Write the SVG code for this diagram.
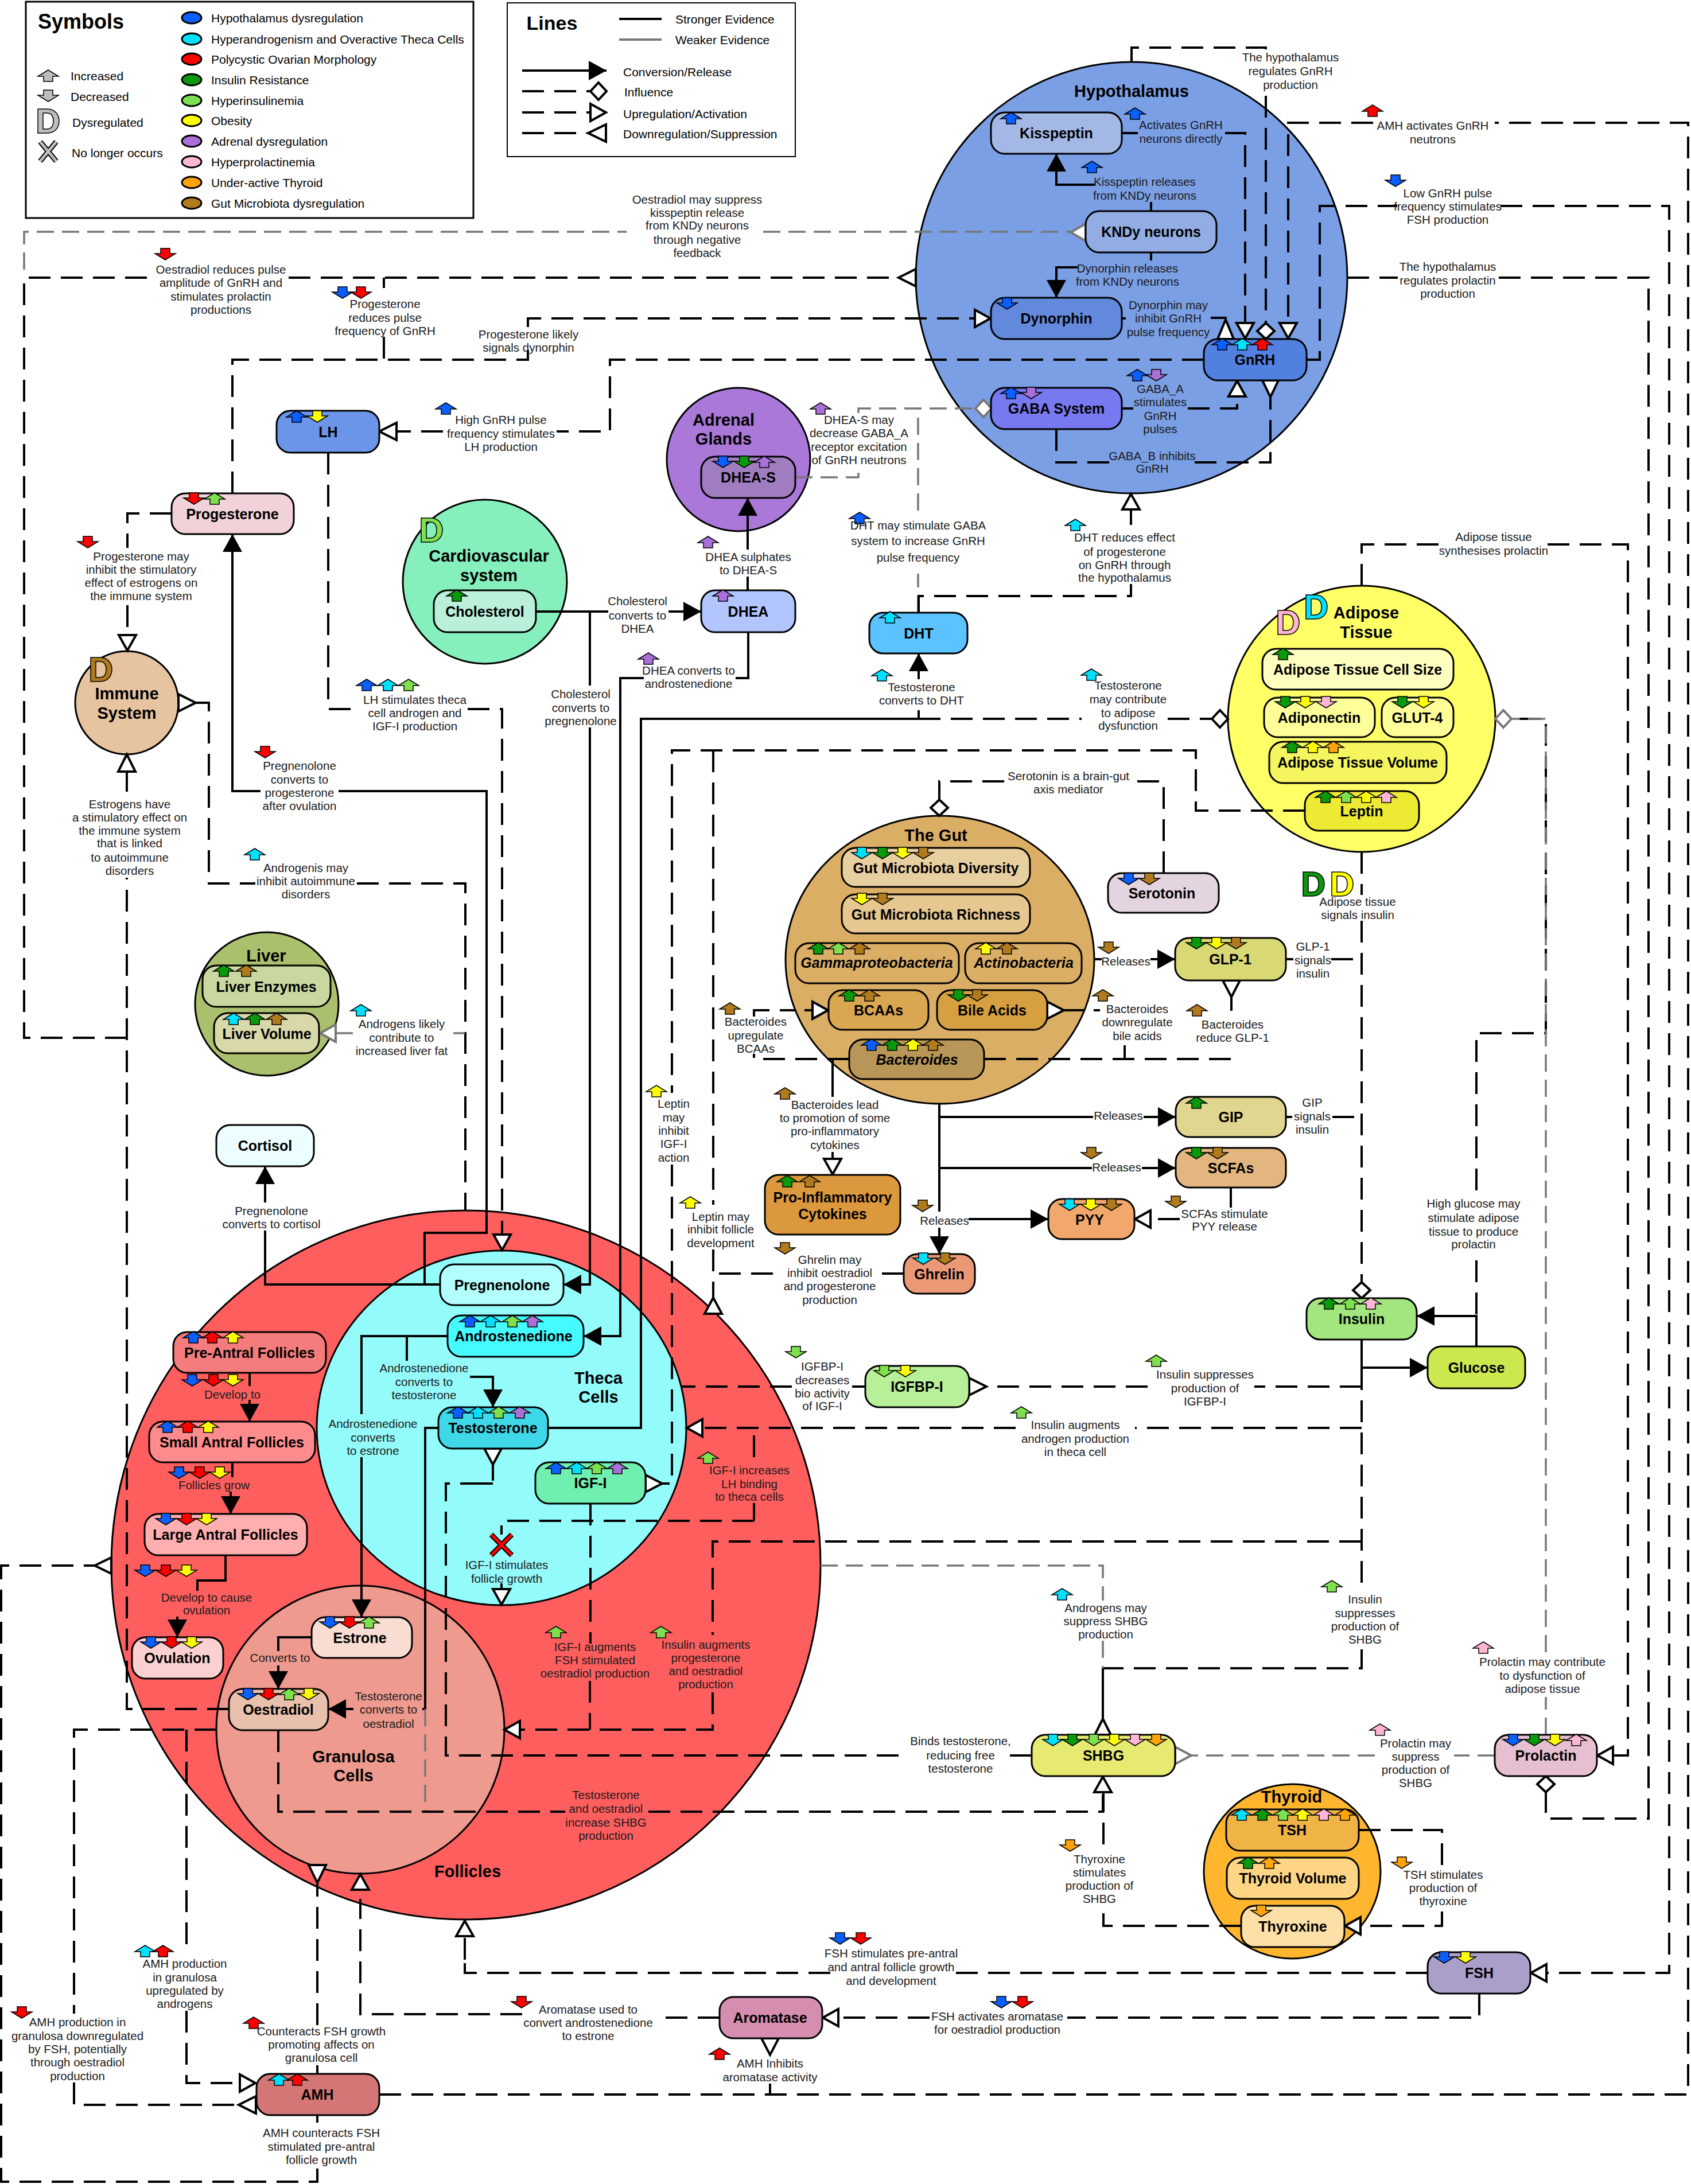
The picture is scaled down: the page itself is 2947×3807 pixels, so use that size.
<svg xmlns="http://www.w3.org/2000/svg" width="2947" height="3807" viewBox="0 0 2947 3807">
<style>
text{font-family:"Liberation Sans",Arial,sans-serif;fill:#000;dominant-baseline:central;text-anchor:middle}
.n{rx:24px;ry:24px;stroke:#000;stroke-width:3}
.c{stroke:#000;stroke-width:3}
.t{font-weight:700;font-size:25px}
.i{font-style:italic}
.h{font-weight:700;font-size:29px}
.e{font-size:20.5px;fill:#1a1a1a}
.l{font-size:21px;text-anchor:start}
.s,.w,.g{fill:none;stroke-linejoin:miter}
.s{stroke:#000;stroke-width:4}
.w{stroke:#000;stroke-width:4;stroke-dasharray:38 18}
.g{stroke:#777;stroke-width:3.5;stroke-dasharray:30 14}
.ma{marker-end:url(#a)}
.mt{marker-end:url(#t)}
.md{marker-end:url(#d)}
.mtg{marker-end:url(#tg)}
.mdg{marker-end:url(#dg)}
.tri{fill:#fff;stroke:#000;stroke-width:4}
.trg{fill:#fff;stroke:#777;stroke-width:4}
.cb{fill:#0B5FFF}.cc{fill:#00E0FF}.cr{fill:#FF0000}.cg{fill:#0A990A}.cl{fill:#7FE04F}.cy{fill:#FFFF00}.cp{fill:#A970D8}.cm{fill:#FFB6D5}.co{fill:#FFA30A}.ck{fill:#B07A1E}.cx{fill:#BDBDBD}
</style>
<defs>
<polygon id="u" points="0,-10 18,1 8,1 8,10 -8,10 -8,1 -18,1" stroke="#000" stroke-width="1.5"/>
<polygon id="v" points="0,10 18,-1 8,-1 8,-10 -8,-10 -8,-1 -18,-1" stroke="#000" stroke-width="1.5"/>
<path id="D" fill-rule="evenodd" stroke="#000" stroke-width="1.5" d="M-18 -21H-2C13 -21 19 -10 19 0C19 10 13 21 -2 21H-18ZM-9 -14V14H-3C6 14 9 8 9 0C9 -8 6 -14 -3 -14Z"/>
<marker id="a" markerUnits="userSpaceOnUse" markerWidth="40" markerHeight="40" refX="32" refY="20" orient="auto" overflow="visible"><path d="M1 3L32 20L1 37Z" fill="#000"/></marker>
<marker id="t" markerUnits="userSpaceOnUse" markerWidth="40" markerHeight="40" refX="30" refY="20" orient="auto" overflow="visible"><path d="M2 5L29 20L2 35Z" fill="#fff" stroke="#000" stroke-width="4"/></marker>
<marker id="d" markerUnits="userSpaceOnUse" markerWidth="40" markerHeight="40" refX="30" refY="20" orient="auto" overflow="visible"><path d="M2 20L16 5L30 20L16 35Z" fill="#fff" stroke="#000" stroke-width="4"/></marker>
<marker id="tg" markerUnits="userSpaceOnUse" markerWidth="40" markerHeight="40" refX="30" refY="20" orient="auto" overflow="visible"><path d="M2 5L29 20L2 35Z" fill="#fff" stroke="#777" stroke-width="4"/></marker>
<marker id="dg" markerUnits="userSpaceOnUse" markerWidth="40" markerHeight="40" refX="30" refY="20" orient="auto" overflow="visible"><path d="M2 20L16 5L30 20L16 35Z" fill="#fff" stroke="#777" stroke-width="4"/></marker>
</defs>
<rect width="2947" height="3807" fill="#fff"/>

<g id="legend-symbols">
<rect x="45" y="3" width="780" height="377" fill="#fff" stroke="#000" stroke-width="3"/>
<text x="141" y="37" font-size="36" font-weight="700">Symbols</text>
<ellipse cx="334" cy="31" rx="17" ry="10" class="c cb"/><text class="l" x="368" y="31">Hypothalamus dysregulation</text>
<ellipse cx="334" cy="68" rx="17" ry="10" class="c cc"/><text class="l" x="368" y="68">Hyperandrogenism and Overactive Theca Cells</text>
<ellipse cx="334" cy="103" rx="17" ry="10" class="c cr"/><text class="l" x="368" y="103">Polycystic Ovarian Morphology</text>
<ellipse cx="334" cy="139" rx="17" ry="10" class="c cg"/><text class="l" x="368" y="139">Insulin Resistance</text>
<ellipse cx="334" cy="175" rx="17" ry="10" class="c cl"/><text class="l" x="368" y="175">Hyperinsulinemia</text>
<ellipse cx="334" cy="210" rx="17" ry="10" class="c cy"/><text class="l" x="368" y="210">Obesity</text>
<ellipse cx="334" cy="246" rx="17" ry="10" class="c cp"/><text class="l" x="368" y="246">Adrenal dysregulation</text>
<ellipse cx="334" cy="282" rx="17" ry="10" class="c cm"/><text class="l" x="368" y="282">Hyperprolactinemia</text>
<ellipse cx="334" cy="318" rx="17" ry="10" class="c co"/><text class="l" x="368" y="318">Under-active Thyroid</text>
<ellipse cx="334" cy="354" rx="17" ry="10" class="c ck"/><text class="l" x="368" y="354">Gut Microbiota dysregulation</text>
<use href="#u" x="84" y="132" class="cx"/><text class="l" x="123" y="132">Increased</text>
<use href="#v" x="84" y="167" class="cx"/><text class="l" x="123" y="168">Decreased</text>
<use href="#D" x="84" y="211" class="cx"/><text class="l" x="126" y="213">Dysregulated</text>
<path d="M70 247L98 281M98 247L70 281" fill="none" stroke="#000" stroke-width="9"/><path d="M70 247L98 281M98 247L70 281" fill="none" stroke="#BDBDBD" stroke-width="5"/>
<text class="l" x="125" y="266">No longer occurs</text>
</g>
<g id="legend-lines">
<rect x="884" y="5" width="502" height="268" fill="#fff" stroke="#000" stroke-width="2"/>
<text x="962" y="40" font-size="34" font-weight="700">Lines</text>
<path class="s" d="M1079 33H1153"/><path class="s" style="stroke:#777" d="M1079 69H1153"/>
<text class="l" x="1177" y="33">Stronger Evidence</text><text class="l" x="1177" y="69">Weaker Evidence</text>
<path class="s ma" d="M910 123H1057"/><path class="w md" d="M910 159H1057"/><path class="w mt" d="M910 196H1057"/>
<path class="w" d="M910 232H1023"/><polygon class="tri" points="1056,217 1056,247 1025,232"/>
<text class="l" x="1086" y="125">Conversion/Release</text><text class="l" x="1088" y="160">Influence</text><text class="l" x="1086" y="198">Upregulation/Activation</text><text class="l" x="1086" y="233">Downregulation/Suppression</text>
</g>

<g id="hypothalamus"><ellipse class="c" cx="1972" cy="484" rx="376" ry="376" fill="#7A9FE5"/><text class="h" x="1972" y="159">Hypothalamus</text></g>
<g id="adrenal-glands"><ellipse class="c" cx="1287" cy="801" rx="125" ry="125" fill="#AA78D8"/><text class="h" x="1261" y="732">Adrenal</text><text class="h" x="1261" y="765">Glands</text></g>
<g id="cardiovascular-system"><ellipse class="c" cx="845" cy="1014" rx="143" ry="143" fill="#86F0BC"/><text class="h" x="852" y="969">Cardiovascular</text><text class="h" x="852" y="1003">system</text><use href="#D" x="752" y="924" class="cl"/></g>
<g id="immune-system"><ellipse class="c" cx="221" cy="1225" rx="90" ry="90" fill="#E7C4A0"/><text class="h" x="221" y="1209">Immune</text><text class="h" x="221" y="1243">System</text><use href="#D" x="176" y="1167" class="ck"/></g>
<g id="adipose-tissue"><ellipse class="c" cx="2373" cy="1253" rx="233" ry="232" fill="#FFFF66"/><text class="h" x="2381" y="1068">Adipose</text><text class="h" x="2381" y="1102">Tissue</text><use href="#D" x="2245" y="1085" class="cm"/><use href="#D" x="2294" y="1058" class="cc"/></g>
<g id="the-gut"><ellipse class="c" cx="1638" cy="1673" rx="269" ry="251" fill="#DBAE66"/><text class="h" x="1631" y="1456">The Gut</text></g>
<g id="liver"><ellipse class="c" cx="465" cy="1750" rx="125" ry="125" fill="#ABC06C"/><text class="h" x="464" y="1666">Liver</text></g>
<g id="follicles"><ellipse class="c" cx="812" cy="2728" rx="618" ry="618" fill="#FF5E5E"/><text class="h" x="815" y="3262">Follicles</text></g>
<g id="theca-cells"><ellipse class="c" cx="874" cy="2489" rx="322" ry="309" fill="#94FBFB"/><text class="h" x="1043" y="2402">Theca</text><text class="h" x="1043" y="2435">Cells</text></g>
<g id="granulosa-cells"><ellipse class="c" cx="628" cy="3015" rx="251" ry="251" fill="#EF9A8E"/><text class="h" x="616" y="3062">Granulosa</text><text class="h" x="616" y="3095">Cells</text></g>
<g id="thyroid"><ellipse class="c" cx="2252" cy="3262" rx="154" ry="152" fill="#FFB62E"/><text class="h" x="2251" y="3132">Thyroid</text></g>

<g id="connectors">
<path class="w mt" d="M1955 232H1983M2135 232H2170V591"/>
<path class="s ma" d="M2006 368V352M1908 322H1841V268"/>
<path class="s ma" d="M2006 440V454M1878 466H1841V519"/>
<path class="w" d="M1955 555H1962M2110 554H2136V560"/><polygon class="tri" points="2136,557 2122,591 2150,591"/>
<path class="w mt" d="M1955 712H1975M2070 712H2156V663"/>
<path class="w" d="M1841 748V806H1935M2082 806H2214V692"/><polygon class="tri" points="2200,663 2228,663 2214,692"/>
<path class="w md" d="M1972 108V83H2206V88M2206 167V591"/>
<path class="w mt" d="M661 3651H1342H2942V214H2605M2393 214H2245V591"/>
<path class="w mt" d="M2277 627H2300V359H2435M2615 359H2909V3439H2667"/>
<path class="w md" d="M2348 484H2436M2612 484H2873V3170H2694V3096"/>
<path class="w" d="M2098 627H1063V752H970M772 752H690"/><polygon class="tri" points="691,737 691,767 661,752"/>
<path class="w" d="M399 2979H221V1530M221 1380V1345"/><polygon class="tri" points="221,1315 206,1345 236,1345"/>
<path class="w" d="M221 1809H42V484H272M503 484H1566"/><polygon class="tri" points="1596,469 1596,499 1566,484"/>
<path class="w" d="M669 484V502M669 587V627"/>
<path class="w mt" d="M405 860V627H920V610M920 570V555H1727"/>
<path class="g" d="M42 470V404H1092M1330 404H1866"/><polygon class="trg" points="1892,390 1892,420 1866,405"/>
<path class="g mdg" d="M1386 832H1496V818M1496 720V712H1728"/>
<path class="g" d="M1600 1068V1000M1600 890V712"/>
<path class="w mt" d="M1601 1068V1039H1971V1018M1971 915V860"/>
<path class="s ma" d="M955 2489H1117V1253H1601V1238M1601 1184V1139"/>
<path class="w md" d="M1601 1253H1885M2035 1253H2140"/>
<path class="w mt" d="M2373 1021V949H2510M2697 949H2837V3060H2783"/>
<path class="w" d="M2573 2347V2190M2573 2075V1801H2694V1253H2640"/>
<path class="g mdg" d="M2694 3024V2958M2694 2880V1253H2606"/>
<path class="w md" d="M2373 1485V1560M2373 1605V2263"/>
<path class="w" d="M2241 1672H2254M2320 1672H2373"/>
<path class="w" d="M2241 1947H2252M2322 1947H2373"/>
<path class="s ma" d="M1906 1672H1920M2005 1672H2048"/>
<path class="w" d="M1715 1846H2146V1835M2146 1762V1738"/><polygon class="tri" points="2131,1709 2161,1709 2146,1738"/>
<path class="w" d="M1960 1846V1822M1917 1761H1906M1889 1761H1854"/><polygon class="tri" points="1825,1746 1825,1776 1854,1761"/>
<path class="w mt" d="M1480 1846H1314V1837M1314 1772V1761H1387M1402 1761H1444"/>
<path class="s mt" d="M1451 1846V1912M1451 2008V2048"/>
<path class="s ma" d="M1637 1923V2112M1637 2140V2186"/>
<path class="s ma" d="M1637 1947H1905M1993 1947H2049"/>
<path class="s ma" d="M1637 2036H1903M1990 2036H2049"/>
<path class="s ma" d="M1688 2125H1827"/>
<path class="w mt" d="M2145 2070V2105M2056 2125H1977"/>
<path class="w" d="M1575 2220H1537M1347 2220H1249"/>
<path class="w" d="M2274 1413H2084V1308H1171V1905M1171 2030V2586H1154"/><polygon class="tri" points="1125,2571 1125,2601 1154,2586"/>
<path class="w" d="M1243 1308V2100M1243 2178V2265"/><polygon class="tri" points="1243,2262 1228,2290 1258,2290"/>
<path class="w" d="M1508 2417H1485M1380 2417H1187"/>
<path class="w" d="M2373 2417H2186M2000 2417H1719"/><polygon class="tri" points="1689,2402 1689,2432 1719,2417"/>
<path class="w mt" d="M2373 2489H1978M1770 2489H1196"/>
<path class="w" d="M2373 2385V2770M2373 2875V2908H1922"/>
<path class="s ma" d="M2373 2335V2384H2488"/>
<path class="s ma" d="M2573 2347V2294H2469"/>
<path class="w mt" d="M2372 2687H1242V2850M1242 2950V3015H878"/>
<path class="w" d="M1029 2621V2865M1028 2930V3015"/>
<path class="w" d="M1314 2651V2620M1314 2540V2489"/>
<path class="w mt" d="M1314 2651H874V2675M874 2760V2798"/>
<path class="w" d="M859 2553V2581M859 2586H840M840 2586H777V3060H1572M1760 3060H1798"/><polygon class="tri" points="844,2525 874,2525 859,2553"/>
<path class="s ma" d="M764 2489H741V2979H736M616 2979H572"/>
<path class="g" d="M741 2979V3158"/>
<path class="w mt" d="M485 3016V3158H985M1130 3158H1922V3096"/>
<path class="w" d="M2163 3357H1923V3320M1923 3215V3126"/>
<path class="g" d="M1430 2729H1922V2790M1922 2860V2908"/>
<path class="s" d="M1922 2908V2998"/><polygon class="tri" points="1922,2996 1908,3024 1936,3024"/>
<path class="g" d="M2605 3060H2534M2396 3060H2076"/><polygon class="trg" points="2048,3045 2048,3075 2076,3060"/>
<path class="w mt" d="M2368 3190H2513V3253M2513 3332V3357H2343"/>
<path class="w mt" d="M2488 3439H1656M1447 3439H810V3398M810 3416V3347"/>
<path class="w mt" d="M2578 3475V3517H1860M1620 3517H1433"/>
<path class="w mt" d="M1254 3517H1157M910 3511H628V3310M628 3296V3266"/>
<path class="w" d="M553 3615V3600M553 3530V3282"/><polygon class="tri" points="553,3282 538,3251 568,3251"/>
<path class="w" d="M1342 3651V3632M1342 3582V3553"/><polygon class="tri" points="1327,3553 1357,3553 1342,3582"/>
<path class="w" d="M553 3687V3700M553 3780V3803H2V2729H166"/><polygon class="tri" points="194,2715 194,2743 165,2729"/>
<path class="w" d="M377 3015H129V3510M129 3630V3669H416"/><polygon class="tri" points="446,3654 446,3684 416,3669"/>
<path class="w mt" d="M325 3015V3397M325 3505V3631H446"/>
<path class="w" d="M341 1225H364V1540H445M622 1540H811V2110"/><polygon class="tri" points="311,1210 311,1240 341,1225"/>
<path class="g mtg" d="M810 1801H790M615 1801H557"/>
<path class="w mt" d="M299 895H222V955M222 1055V1135"/>
<path class="s ma" d="M767 2239H740V2149H848V1379H590M454 1379H405V931"/>
<path class="s ma" d="M740 2239H462V2145M462 2096V2033"/>
<path class="w mt" d="M572 789V1236H617M815 1236H875V2180"/>
<path class="s ma" d="M934 1066H1060M1165 1066H1222"/>
<path class="s ma" d="M1028 1066V1195M1028 1268V2239H982"/>
<path class="s ma" d="M1304 1102V1182H1282M1122 1182H1081V2329H1017"/>
<path class="s ma" d="M1303 1029V1005M1303 958V868"/>
<path class="s ma" d="M780 2329H709V2372M819 2400H859V2453"/>
<path class="s ma" d="M709 2329H630V2465M630 2540V2819"/>
<path class="s ma" d="M435 2393V2416M435 2440V2478"/>
<path class="s ma" d="M405 2549V2575M402 2600V2639"/>
<path class="s ma" d="M393 2711V2755H344V2773M309 2818V2854"/>
<path class="s ma" d="M543 2854H485V2878M485 2903V2944"/>
<path class="w md" d="M2028 1522V1362H1980M1750 1362H1637V1422"/>
</g>

<g id="kisspeptin"><rect class="n" x="1727" y="196" width="228" height="72" fill="#A3B8E5"/><text class="t" x="1841" y="232">Kisspeptin</text><use href="#u" x="1762" y="206" class="cb"/></g>
<g id="kndy-neurons"><rect class="n" x="1892" y="368" width="228" height="72" fill="#92ADE3"/><text class="t" x="2006" y="404">KNDy neurons</text></g>
<g id="dynorphin"><rect class="n" x="1727" y="519" width="228" height="72" fill="#6289DB"/><text class="t" x="1841" y="555">Dynorphin</text><use href="#v" x="1755" y="529" class="cb"/></g>
<g id="gnrh"><rect class="n" x="2098" y="591" width="179" height="72" fill="#5280E0"/><text class="t" x="2187" y="627">GnRH</text><use href="#u" x="2130" y="600" class="cb"/><use href="#u" x="2165" y="600" class="cc"/><use href="#u" x="2200" y="600" class="cr"/></g>
<g id="gaba-system"><rect class="n" x="1727" y="676" width="228" height="72" fill="#7878F0"/><text class="t" x="1841" y="712">GABA System</text><use href="#u" x="1762" y="685" class="cb"/><use href="#v" x="1797" y="685" class="cp"/></g>
<g id="lh"><rect class="n" x="482" y="716" width="179" height="73" fill="#6A95E8"/><text class="t" x="572" y="753">LH</text><use href="#u" x="517" y="726" class="cb"/><use href="#v" x="553" y="726" class="cy"/></g>
<g id="progesterone"><rect class="n" x="299" y="860" width="213" height="71" fill="#F0D2D8"/><text class="t" x="405" y="896">Progesterone</text><use href="#v" x="338" y="869" class="cr"/><use href="#u" x="374" y="869" class="cl"/></g>
<g id="cholesterol"><rect class="n" x="756" y="1029" width="178" height="73" fill="#BAF0DA"/><text class="t" x="845" y="1066">Cholesterol</text><use href="#u" x="796" y="1038" class="cg"/></g>
<g id="dhea-s"><rect class="n" x="1222" y="796" width="164" height="72" fill="#9F7DBE"/><text class="t" x="1304" y="832">DHEA-S</text><use href="#v" x="1260" y="805" class="cb"/><use href="#v" x="1297" y="805" class="cg"/><use href="#u" x="1332" y="805" class="cp"/></g>
<g id="dhea"><rect class="n" x="1222" y="1029" width="164" height="73" fill="#B3C5FF"/><text class="t" x="1304" y="1066">DHEA</text><use href="#u" x="1260" y="1038" class="cp"/></g>
<g id="dht"><rect class="n" x="1515" y="1068" width="171" height="71" fill="#5BC3FF"/><text class="t" x="1601" y="1104">DHT</text><use href="#u" x="1551" y="1076" class="cc"/></g>
<g id="adipose-cell-size"><rect class="n" x="2200" y="1131" width="333" height="71" fill="#FFFFC0"/><text class="t" x="2366" y="1167">Adipose Tissue Cell Size</text><use href="#u" x="2236" y="1140" class="cg"/></g>
<g id="adiponectin"><rect class="n" x="2203" y="1216" width="193" height="69" fill="#FFFF99"/><text class="t" x="2299" y="1251">Adiponectin</text><use href="#v" x="2240" y="1224" class="cg"/><use href="#v" x="2275" y="1224" class="cy"/><use href="#v" x="2311" y="1224" class="cm"/></g>
<g id="glut-4"><rect class="n" x="2408" y="1216" width="125" height="69" fill="#FFFF99"/><text class="t" x="2470" y="1251">GLUT-4</text><use href="#v" x="2444" y="1224" class="cg"/><use href="#v" x="2481" y="1224" class="cy"/></g>
<g id="adipose-volume"><rect class="n" x="2212" y="1293" width="309" height="72" fill="#F5F560"/><text class="t" x="2366" y="1329">Adipose Tissue Volume</text><use href="#u" x="2252" y="1302" class="cg"/><use href="#u" x="2288" y="1302" class="cy"/><use href="#u" x="2324" y="1302" class="co"/></g>
<g id="leptin"><rect class="n" x="2274" y="1379" width="199" height="69" fill="#EDEA33"/><text class="t" x="2373" y="1414">Leptin</text><use href="#u" x="2310" y="1389" class="cg"/><use href="#u" x="2346" y="1389" class="cl"/><use href="#u" x="2381" y="1389" class="cy"/><use href="#u" x="2416" y="1389" class="cm"/></g>
<g id="serotonin"><rect class="n" x="1931" y="1522" width="193" height="69" fill="#E4D4DF"/><text class="t" x="2025" y="1557">Serotonin</text><use href="#v" x="1967" y="1532" class="cb"/><use href="#v" x="2003" y="1532" class="ck"/></g>
<g id="glp-1"><rect class="n" x="2048" y="1635" width="193" height="74" fill="#D8D874"/><text class="t" x="2144" y="1672">GLP-1</text><use href="#v" x="2085" y="1644" class="cg"/><use href="#v" x="2120" y="1644" class="cy"/><use href="#v" x="2154" y="1644" class="ck"/></g>
<g id="gut-diversity"><rect class="n" x="1467" y="1478" width="328" height="68" fill="#E8CFA0"/><text class="t" x="1631" y="1513">Gut Microbiota Diversity</text><use href="#v" x="1502" y="1487" class="cc"/><use href="#v" x="1538" y="1487" class="cg"/><use href="#v" x="1573" y="1487" class="cy"/><use href="#v" x="1609" y="1487" class="ck"/></g>
<g id="gut-richness"><rect class="n" x="1467" y="1559" width="328" height="68" fill="#E5C78F"/><text class="t" x="1631" y="1594">Gut Microbiota Richness</text><use href="#v" x="1502" y="1567" class="cy"/><use href="#v" x="1538" y="1567" class="ck"/></g>
<g id="gammaproteobacteria"><rect class="n" x="1386" y="1644" width="285" height="70" fill="#DBAE66"/><text class="t i" x="1528" y="1678">Gammaproteobacteria</text><use href="#u" x="1426" y="1653" class="cg"/><use href="#u" x="1461" y="1653" class="cl"/><use href="#u" x="1498" y="1653" class="ck"/></g>
<g id="actinobacteria"><rect class="n" x="1682" y="1644" width="203" height="70" fill="#DBAE66"/><text class="t i" x="1784" y="1678">Actinobacteria</text><use href="#u" x="1718" y="1653" class="cy"/><use href="#u" x="1755" y="1653" class="ck"/></g>
<g id="bcaas"><rect class="n" x="1444" y="1726" width="174" height="69" fill="#D9A750"/><text class="t" x="1531" y="1761">BCAAs</text><use href="#u" x="1480" y="1735" class="cg"/><use href="#u" x="1515" y="1735" class="ck"/></g>
<g id="bile-acids"><rect class="n" x="1633" y="1726" width="192" height="69" fill="#D6A040"/><text class="t" x="1729" y="1761">Bile Acids</text><use href="#v" x="1670" y="1735" class="cg"/><use href="#v" x="1703" y="1735" class="ck"/></g>
<g id="bacteroides"><rect class="n" x="1480" y="1812" width="235" height="69" fill="#B89657"/><text class="t i" x="1598" y="1847">Bacteroides</text><use href="#u" x="1519" y="1821" class="cb"/><use href="#u" x="1555" y="1821" class="cg"/><use href="#u" x="1591" y="1821" class="cy"/><use href="#u" x="1626" y="1821" class="ck"/></g>
<g id="gip"><rect class="n" x="2049" y="1912" width="192" height="70" fill="#E0D690"/><text class="t" x="2145" y="1947">GIP</text><use href="#u" x="2085" y="1922" class="cg"/></g>
<g id="scfas"><rect class="n" x="2049" y="2001" width="192" height="69" fill="#E3B680"/><text class="t" x="2145" y="2036">SCFAs</text><use href="#v" x="2085" y="2010" class="cg"/><use href="#v" x="2122" y="2010" class="ck"/></g>
<g id="pyy"><rect class="n" x="1827" y="2090" width="150" height="70" fill="#F2A76C"/><text class="t" x="1899" y="2126">PYY</text><use href="#v" x="1864" y="2100" class="cc"/><use href="#v" x="1901" y="2100" class="cy"/><use href="#v" x="1937" y="2100" class="ck"/></g>
<g id="ghrelin"><rect class="n" x="1575" y="2186" width="124" height="69" fill="#EB9877"/><text class="t" x="1637" y="2221">Ghrelin</text><use href="#v" x="1609" y="2194" class="cc"/><use href="#v" x="1647" y="2194" class="ck"/></g>
<g id="pro-inflammatory-cytokines"><rect class="n" x="1333" y="2048" width="236" height="104" fill="#DC983C"/><text class="t" x="1451" y="2087">Pro-Inflammatory</text><text class="t" x="1451" y="2116">Cytokines</text><use href="#u" x="1372" y="2059" class="cg"/><use href="#u" x="1411" y="2059" class="ck"/></g>
<g id="igfbp-i"><rect class="n" x="1508" y="2381" width="181" height="72" fill="#B8F09A"/><text class="t" x="1598" y="2417">IGFBP-I</text><use href="#v" x="1541" y="2390" class="cl"/><use href="#v" x="1578" y="2390" class="cy"/></g>
<g id="insulin"><rect class="n" x="2277" y="2263" width="192" height="72" fill="#A3E67F"/><text class="t" x="2373" y="2299">Insulin</text><use href="#u" x="2316" y="2272" class="cg"/><use href="#u" x="2353" y="2272" class="cl"/><use href="#u" x="2389" y="2272" class="cm"/></g>
<g id="glucose"><rect class="n" x="2488" y="2347" width="170" height="73" fill="#CCE84F"/><text class="t" x="2573" y="2384">Glucose</text></g>
<g id="shbg"><rect class="n" x="1798" y="3024" width="250" height="72" fill="#E6EA70"/><text class="t" x="1923" y="3060">SHBG</text><use href="#v" x="1835" y="3033" class="cc"/><use href="#v" x="1869" y="3033" class="cg"/><use href="#v" x="1906" y="3033" class="cl"/><use href="#v" x="1942" y="3033" class="cy"/><use href="#v" x="1978" y="3033" class="cm"/><use href="#v" x="2015" y="3033" class="co"/></g>
<g id="prolactin"><rect class="n" x="2605" y="3024" width="178" height="72" fill="#E6C0D0"/><text class="t" x="2694" y="3060">Prolactin</text><use href="#v" x="2637" y="3033" class="cb"/><use href="#v" x="2674" y="3033" class="cg"/><use href="#v" x="2710" y="3033" class="cy"/><use href="#u" x="2747" y="3033" class="cm"/></g>
<g id="tsh"><rect class="n" x="2137" y="3154" width="231" height="72" fill="#EFB445"/><text class="t" x="2252" y="3190">TSH</text><use href="#u" x="2164" y="3163" class="cc"/><use href="#u" x="2200" y="3163" class="cg"/><use href="#u" x="2236" y="3163" class="cl"/><use href="#u" x="2270" y="3163" class="cy"/><use href="#u" x="2307" y="3163" class="cm"/><use href="#u" x="2344" y="3163" class="co"/></g>
<g id="thyroid-volume"><rect class="n" x="2138" y="3238" width="230" height="72" fill="#FDD584"/><text class="t" x="2253" y="3274">Thyroid Volume</text><use href="#u" x="2175" y="3247" class="cg"/><use href="#u" x="2212" y="3247" class="co"/></g>
<g id="thyroxine"><rect class="n" x="2163" y="3322" width="180" height="72" fill="#FDE0A8"/><text class="t" x="2253" y="3358">Thyroxine</text><use href="#v" x="2198" y="3331" class="co"/></g>
<g id="fsh"><rect class="n" x="2488" y="3403" width="179" height="72" fill="#AA9FC8"/><text class="t" x="2578" y="3439">FSH</text><use href="#v" x="2517" y="3412" class="cb"/><use href="#v" x="2554" y="3412" class="cy"/></g>
<g id="aromatase"><rect class="n" x="1254" y="3481" width="179" height="72" fill="#D68EB0"/><text class="t" x="1342" y="3517">Aromatase</text></g>
<g id="amh"><rect class="n" x="447" y="3615" width="214" height="72" fill="#D47676"/><text class="t" x="553" y="3651">AMH</text><use href="#u" x="486" y="3625" class="cc"/><use href="#u" x="518" y="3625" class="cr"/></g>
<g id="pregnenolone"><rect class="n" x="767" y="2204" width="215" height="71" fill="#B3FFFD"/><text class="t" x="875" y="2240">Pregnenolone</text></g>
<g id="androstenedione"><rect class="n" x="780" y="2293" width="237" height="72" fill="#44FBFF"/><text class="t" x="895" y="2329">Androstenedione</text><use href="#u" x="819" y="2303" class="cb"/><use href="#u" x="855" y="2303" class="cc"/><use href="#u" x="893" y="2303" class="cl"/><use href="#u" x="928" y="2303" class="cp"/></g>
<g id="testosterone"><rect class="n" x="764" y="2453" width="191" height="72" fill="#3FD8E8"/><text class="t" x="859" y="2489">Testosterone</text><use href="#u" x="798" y="2462" class="cb"/><use href="#u" x="833" y="2462" class="cc"/><use href="#u" x="869" y="2462" class="cl"/><use href="#u" x="906" y="2462" class="cp"/></g>
<g id="igf-i"><rect class="n" x="933" y="2549" width="192" height="72" fill="#70F0B0"/><text class="t" x="1029" y="2585">IGF-I</text><use href="#u" x="969" y="2559" class="cb"/><use href="#u" x="1005" y="2559" class="cc"/><use href="#u" x="1040" y="2559" class="cl"/><use href="#u" x="1076" y="2559" class="cp"/></g>
<g id="pre-antral-follicles"><rect class="n" x="302" y="2322" width="266" height="71" fill="#F47C7C"/><text class="t" x="435" y="2358">Pre-Antral Follicles</text><use href="#u" x="337" y="2331" class="cb"/><use href="#u" x="370" y="2331" class="cr"/><use href="#u" x="406" y="2331" class="cy"/></g>
<g id="small-antral-follicles"><rect class="n" x="260" y="2478" width="289" height="71" fill="#FF8C8C"/><text class="t" x="404" y="2514">Small Antral Follicles</text><use href="#u" x="292" y="2487" class="cb"/><use href="#u" x="327" y="2487" class="cr"/><use href="#u" x="363" y="2487" class="cy"/></g>
<g id="large-antral-follicles"><rect class="n" x="252" y="2639" width="283" height="72" fill="#FFAFAF"/><text class="t" x="393" y="2675">Large Antral Follicles</text><use href="#v" x="289" y="2648" class="cb"/><use href="#v" x="325" y="2648" class="cr"/><use href="#v" x="360" y="2648" class="cy"/></g>
<g id="ovulation"><rect class="n" x="230" y="2854" width="159" height="72" fill="#FAD0D0"/><text class="t" x="309" y="2890">Ovulation</text><use href="#v" x="263" y="2863" class="cb"/><use href="#v" x="299" y="2863" class="cr"/><use href="#v" x="334" y="2863" class="cy"/></g>
<g id="estrone"><rect class="n" x="543" y="2819" width="175" height="71" fill="#F9DDD2"/><text class="t" x="627" y="2855">Estrone</text><use href="#v" x="575" y="2828" class="cb"/><use href="#v" x="609" y="2828" class="cr"/><use href="#u" x="643" y="2828" class="cl"/></g>
<g id="oestradiol"><rect class="n" x="399" y="2944" width="173" height="72" fill="#E8C0AC"/><text class="t" x="485" y="2980">Oestradiol</text><use href="#v" x="432" y="2953" class="cb"/><use href="#v" x="468" y="2953" class="cr"/><use href="#u" x="504" y="2953" class="cl"/><use href="#v" x="538" y="2953" class="cy"/></g>
<g id="liver-enzymes"><rect class="n" x="353" y="1683" width="223" height="72" fill="#C8D8A0"/><text class="t" x="464" y="1720">Liver Enzymes</text><use href="#u" x="390" y="1692" class="cg"/><use href="#u" x="429" y="1692" class="ck"/></g>
<g id="liver-volume"><rect class="n" x="373" y="1766" width="183" height="70" fill="#D8D8A8"/><text class="t" x="465" y="1802">Liver Volume</text><use href="#u" x="407" y="1776" class="cc"/><use href="#u" x="444" y="1776" class="cg"/><use href="#u" x="482" y="1776" class="ck"/></g>
<g id="cortisol"><rect class="n" x="377" y="1961" width="170" height="72" fill="#ECFEFF"/><text class="t" x="462" y="1997">Cortisol</text></g>

<g id="edge-labels">
<g><use href="#u" x="1978" y="198" class="cb"/><text class="e" x="2058" y="217">Activates GnRH<tspan x="2058" y="241">neurons directly</tspan></text></g>
<g><use href="#u" x="1903" y="291" class="cb"/><text class="e" x="1995" y="316">Kisspeptin releases<tspan x="1995" y="340">from KNDy neurons</tspan></text></g>
<text class="e" x="1965" y="467">Dynorphin releases<tspan x="1965" y="490">from KNDy neurons</tspan></text>
<text class="e" x="2036" y="531">Dynorphin may<tspan x="2036" y="554">inhibit GnRH</tspan><tspan x="2036" y="578">pulse frequency</tspan></text>
<g><use href="#u" x="1982" y="654" class="cb"/><use href="#v" x="2015" y="654" class="cp"/><text class="e" x="2022" y="677">GABA_A<tspan x="2022" y="700">stimulates</tspan><tspan x="2022" y="724">GnRH</tspan><tspan x="2022" y="747">pulses</tspan></text></g>
<text class="e" x="2008" y="794">GABA_B inhibits<tspan x="2008" y="816">GnRH</tspan></text>
<text class="e" x="2249" y="99">The hypothalamus<tspan x="2249" y="123">regulates GnRH</tspan><tspan x="2249" y="147">production</tspan></text>
<g><use href="#u" x="2392" y="193" class="cr"/><text class="e" x="2497" y="218">AMH activates GnRH<tspan x="2497" y="242">neutrons</tspan></text></g>
<g><use href="#v" x="2432" y="315" class="cb"/><text class="e" x="2523" y="336">Low GnRH pulse<tspan x="2523" y="359">frequency stimulates</tspan><tspan x="2523" y="382">FSH production</tspan></text></g>
<text class="e" x="2523" y="464">The hypothalamus<tspan x="2523" y="488">regulates prolactin</tspan><tspan x="2523" y="511">production</tspan></text>
<text class="e" x="1215" y="347">Oestradiol may suppress<tspan x="1215" y="370">kisspeptin release</tspan><tspan x="1215" y="392">from KNDy neurons</tspan><tspan x="1215" y="417">through negative</tspan><tspan x="1215" y="440">feedback</tspan></text>
<g><use href="#v" x="288" y="443" class="cr"/><text class="e" x="385" y="469">Oestradiol reduces pulse<tspan x="385" y="492">amplitude of GnRH and</tspan><tspan x="385" y="516">stimulates prolactin</tspan><tspan x="385" y="539">productions</tspan></text></g>
<g><use href="#v" x="597" y="510" class="cb"/><use href="#v" x="629" y="510" class="cr"/><text class="e" x="671" y="529">Progesterone<tspan x="671" y="553">reduces pulse</tspan><tspan x="671" y="576">frequency of GnRH</tspan></text></g>
<text class="e" x="921" y="582">Progesterone likely<tspan x="921" y="605">signals dynorphin</tspan></text>
<g><use href="#u" x="777" y="712" class="cb"/><text class="e" x="873" y="731">High GnRH pulse<tspan x="873" y="755">frequency stimulates</tspan><tspan x="873" y="778">LH production</tspan></text></g>
<g><use href="#v" x="153" y="945" class="cr"/><text class="e" x="246" y="969">Progesterone may<tspan x="246" y="992">inhibit the stimulatory</tspan><tspan x="246" y="1015">effect of estrogens on</tspan><tspan x="246" y="1038">the immune system</tspan></text></g>
<g><use href="#u" x="639" y="1194" class="cb"/><use href="#u" x="676" y="1194" class="cc"/><use href="#u" x="712" y="1194" class="cl"/><text class="e" x="723" y="1219">LH stimulates theca<tspan x="723" y="1242">cell androgen and</tspan><tspan x="723" y="1265">IGF-I production</tspan></text></g>
<g><use href="#v" x="462" y="1311" class="cr"/><text class="e" x="522" y="1334">Pregnenolone<tspan x="522" y="1358">converts to</tspan><tspan x="522" y="1381">progesterone</tspan><tspan x="522" y="1404">after ovulation</tspan></text></g>
<g><use href="#u" x="444" y="1489" class="cc"/><text class="e" x="533" y="1512">Androgenis may<tspan x="533" y="1535">inhibit autoimmune</tspan><tspan x="533" y="1558">disorders</tspan></text></g>
<text class="e" x="226" y="1401">Estrogens have<tspan x="226" y="1424">a stimulatory effect on</tspan><tspan x="226" y="1447">the immune system</tspan><tspan x="226" y="1469">that is linked</tspan><tspan x="226" y="1494">to autoimmune</tspan><tspan x="226" y="1517">disorders</tspan></text>
<text class="e" x="1111" y="1047">Cholesterol<tspan x="1111" y="1072">converts to</tspan><tspan x="1111" y="1095">DHEA</tspan></text>
<text class="e" x="1012" y="1209">Cholesterol<tspan x="1012" y="1233">converts to</tspan><tspan x="1012" y="1256">pregnenolone</tspan></text>
<g><use href="#u" x="1234" y="945" class="cp"/><text class="e" x="1304" y="970">DHEA sulphates<tspan x="1304" y="993">to DHEA-S</tspan></text></g>
<g><use href="#u" x="1130" y="1148" class="cp"/><text class="e" x="1200" y="1168">DHEA converts to<tspan x="1200" y="1191">androstenedione</tspan></text></g>
<g><use href="#u" x="1430" y="712" class="cp"/><text class="e" x="1497" y="731">DHEA-S may<tspan x="1497" y="754">decrease GABA_A</tspan><tspan x="1497" y="778">receptor excitation</tspan><tspan x="1497" y="801">of GnRH neutrons</tspan></text></g>
<g><use href="#u" x="1498" y="903" class="cb"/><text class="e" x="1600" y="915">DHT may stimulate GABA<tspan x="1600" y="942">system to increase GnRH</tspan><tspan x="1600" y="971">pulse frequency</tspan></text></g>
<g><use href="#u" x="1874" y="915" class="cc"/><text class="e" x="1960" y="936">DHT reduces effect<tspan x="1960" y="961">of progesterone</tspan><tspan x="1960" y="984">on GnRH through</tspan><tspan x="1960" y="1006">the hypothalamus</tspan></text></g>
<text class="e" x="2603" y="935">Adipose tissue<tspan x="2603" y="959">synthesises prolactin</tspan></text>
<g><use href="#u" x="1537" y="1177" class="cc"/><text class="e" x="1606" y="1197">Testosterone<tspan x="1606" y="1220">converts to DHT</tspan></text></g>
<g><use href="#u" x="1902" y="1176" class="cc"/><text class="e" x="1966" y="1194">Testosterone<tspan x="1966" y="1218">may contribute</tspan><tspan x="1966" y="1242">to adipose</tspan><tspan x="1966" y="1264">dysfunction</tspan></text></g>
<text class="e" x="1862" y="1352">Serotonin is a brain-gut<tspan x="1862" y="1375">axis mediator</tspan></text>
<g><use href="#D" x="2289" y="1541" class="cg"/><use href="#D" x="2339" y="1541" class="cy"/><text class="e" x="2366" y="1571">Adipose tissue<tspan x="2366" y="1594">signals insulin</tspan></text></g>
<text class="e" x="2288" y="1649">GLP-1<tspan x="2288" y="1673">signals</tspan><tspan x="2288" y="1696">insulin</tspan></text>
<text class="e" x="2287" y="1921">GIP<tspan x="2287" y="1945">signals</tspan><tspan x="2287" y="1968">insulin</tspan></text>
<g><use href="#v" x="1932" y="1652" class="ck"/><text class="e" x="1962" y="1675">Releases</text></g>
<g><use href="#u" x="1922" y="1735" class="ck"/><text class="e" x="1982" y="1758">Bacteroides<tspan x="1982" y="1781">downregulate</tspan><tspan x="1982" y="1805">bile acids</tspan></text></g>
<g><use href="#u" x="2086" y="1761" class="ck"/><text class="e" x="2148" y="1785">Bacteroides<tspan x="2148" y="1808">reduce GLP-1</tspan></text></g>
<g><use href="#u" x="1272" y="1758" class="ck"/><text class="e" x="1317" y="1780">Bacteroides<tspan x="1317" y="1804">upregulate</tspan><tspan x="1317" y="1827">BCAAs</tspan></text></g>
<g><use href="#u" x="1368" y="1906" class="ck"/><text class="e" x="1455" y="1925">Bacteroides lead<tspan x="1455" y="1948">to promotion of some</tspan><tspan x="1455" y="1971">pro-inflammatory</tspan><tspan x="1455" y="1995">cytokines</tspan></text></g>
<text class="e" x="1949" y="1944">Releases</text>
<g><use href="#v" x="1902" y="2010" class="ck"/><text class="e" x="1946" y="2034">Releases</text></g>
<g><use href="#v" x="1608" y="2102" class="ck"/><text class="e" x="1646" y="2127">Releases</text></g>
<g><use href="#v" x="2049" y="2095" class="ck"/><text class="e" x="2134" y="2115">SCFAs stimulate<tspan x="2134" y="2137">PYY release</tspan></text></g>
<g><use href="#v" x="1368" y="2176" class="ck"/><text class="e" x="1446" y="2195">Ghrelin may<tspan x="1446" y="2218">inhibit oestradiol</tspan><tspan x="1446" y="2241">and progesterone</tspan><tspan x="1446" y="2265">production</tspan></text></g>
<g><use href="#u" x="1144" y="1902" class="cy"/><text class="e" x="1174" y="1923">Leptin<tspan x="1174" y="1947">may</tspan><tspan x="1174" y="1970">inhibit</tspan><tspan x="1174" y="1993">IGF-I</tspan><tspan x="1174" y="2017">action</tspan></text></g>
<g><use href="#u" x="1203" y="2096" class="cy"/><text class="e" x="1256" y="2120">Leptin may<tspan x="1256" y="2142">inhibit follicle</tspan><tspan x="1256" y="2166">development</tspan></text></g>
<g><use href="#u" x="629" y="1761" class="cc"/><text class="e" x="700" y="1784">Androgens likely<tspan x="700" y="1808">contribute to</tspan><tspan x="700" y="1831">increased liver fat</tspan></text></g>
<text class="e" x="473" y="2110">Pregnenolone<tspan x="473" y="2133">converts to cortisol</tspan></text>
<g><use href="#v" x="1387" y="2357" class="cl"/><text class="e" x="1433" y="2381">IGFBP-I<tspan x="1433" y="2405">decreases</tspan><tspan x="1433" y="2428">bio activity</tspan><tspan x="1433" y="2450">of IGF-I</tspan></text></g>
<g><use href="#u" x="2015" y="2372" class="cl"/><text class="e" x="2100" y="2395">Insulin suppresses<tspan x="2100" y="2419">production of</tspan><tspan x="2100" y="2442">IGFBP-I</tspan></text></g>
<g><use href="#u" x="1780" y="2462" class="cl"/><text class="e" x="1874" y="2483">Insulin augments<tspan x="1874" y="2507">androgen production</tspan><tspan x="1874" y="2530">in theca cell</tspan></text></g>
<text class="e" x="2568" y="2097">High glucose may<tspan x="2568" y="2122">stimulate adipose</tspan><tspan x="2568" y="2146">tissue to produce</tspan><tspan x="2568" y="2168">prolactin</tspan></text>
<g><use href="#u" x="1234" y="2541" class="cl"/><text class="e" x="1306" y="2562">IGF-I increases<tspan x="1306" y="2586">LH binding</tspan><tspan x="1306" y="2608">to theca cells</tspan></text></g>
<g><path d="M856 2675L892 2711M892 2675L856 2711" fill="none" stroke="#000" stroke-width="9"/><path d="M856 2675L892 2711M892 2675L856 2711" fill="none" stroke="#f00" stroke-width="5"/><text class="e" x="883" y="2727">IGF-I stimulates<tspan x="883" y="2751">follicle growth</tspan></text></g>
<g><use href="#u" x="969" y="2845" class="cl"/><text class="e" x="1037" y="2870">IGF-I augments<tspan x="1037" y="2893">FSH stimulated</tspan><tspan x="1037" y="2916">oestradiol production</tspan></text></g>
<g><use href="#u" x="1152" y="2845" class="cl"/><text class="e" x="1230" y="2866">Insulin augments<tspan x="1230" y="2889">progesterone</tspan><tspan x="1230" y="2912">and oestradiol</tspan><tspan x="1230" y="2935">production</tspan></text></g>
<text class="e" x="739" y="2384">Androstenedione<tspan x="739" y="2408">converts to</tspan><tspan x="739" y="2431">testosterone</tspan></text>
<text class="e" x="650" y="2481">Androstenedione<tspan x="650" y="2505">converts</tspan><tspan x="650" y="2528">to estrone</tspan></text>
<g><use href="#v" x="335" y="2406" class="cb"/><use href="#v" x="372" y="2406" class="cr"/><use href="#v" x="406" y="2406" class="cy"/><text class="e" x="405" y="2430">Develop to</text></g>
<g><use href="#v" x="312" y="2567" class="cb"/><use href="#v" x="348" y="2567" class="cr"/><use href="#v" x="383" y="2567" class="cy"/><text class="e" x="373" y="2588">Follicles grow</text></g>
<g><use href="#v" x="253" y="2738" class="cb"/><use href="#v" x="289" y="2738" class="cr"/><use href="#v" x="325" y="2738" class="cy"/><text class="e" x="360" y="2784">Develop to cause<tspan x="360" y="2806">ovulation</tspan></text></g>
<text class="e" x="488" y="2889">Converts to</text>
<text class="e" x="677" y="2956">Testosterone<tspan x="677" y="2979">converts to</tspan><tspan x="677" y="3004">oestradiol</tspan></text>
<text class="e" x="1056" y="3128">Testosterone<tspan x="1056" y="3152">and oestradiol</tspan><tspan x="1056" y="3176">increase SHBG</tspan><tspan x="1056" y="3199">production</tspan></text>
<g><use href="#u" x="1851" y="2779" class="cc"/><text class="e" x="1927" y="2802">Androgens may<tspan x="1927" y="2825">suppress SHBG</tspan><tspan x="1927" y="2848">production</tspan></text></g>
<g><use href="#u" x="2321" y="2765" class="cl"/><text class="e" x="2379" y="2787">Insulin<tspan x="2379" y="2811">suppresses</tspan><tspan x="2379" y="2834">production of</tspan><tspan x="2379" y="2857">SHBG</tspan></text></g>
<g><use href="#u" x="2585" y="2872" class="cm"/><text class="e" x="2688" y="2896">Prolactin may contribute<tspan x="2688" y="2920">to dysfunction of</tspan><tspan x="2688" y="2943">adipose tissue</tspan></text></g>
<text class="e" x="1674" y="3034">Binds testosterone,<tspan x="1674" y="3059">reducing free</tspan><tspan x="1674" y="3082">testosterone</tspan></text>
<g><use href="#u" x="2405" y="3015" class="cm"/><text class="e" x="2467" y="3038">Prolactin may<tspan x="2467" y="3061">suppress</tspan><tspan x="2467" y="3084">production of</tspan><tspan x="2467" y="3107">SHBG</tspan></text></g>
<g><use href="#v" x="1865" y="3217" class="co"/><text class="e" x="1916" y="3240">Thyroxine<tspan x="1916" y="3263">stimulates</tspan><tspan x="1916" y="3286">production of</tspan><tspan x="1916" y="3309">SHBG</tspan></text></g>
<g><use href="#v" x="2443" y="3247" class="co"/><text class="e" x="2515" y="3267">TSH stimulates<tspan x="2515" y="3290">production of</tspan><tspan x="2515" y="3313">thyroxine</tspan></text></g>
<g><use href="#v" x="1464" y="3379" class="cb"/><use href="#v" x="1500" y="3379" class="cr"/><text class="e" x="1553" y="3404">FSH stimulates pre-antral<tspan x="1553" y="3428">and antral follicle growth</tspan><tspan x="1553" y="3452">and development</tspan></text></g>
<g><use href="#v" x="1745" y="3490" class="cb"/><use href="#v" x="1782" y="3490" class="cr"/><text class="e" x="1738" y="3514">FSH activates aromatase<tspan x="1738" y="3537">for oestradiol production</tspan></text></g>
<g><use href="#v" x="909" y="3490" class="cr"/><text class="e" x="1025" y="3502">Aromatase used to<tspan x="1025" y="3525">convert androstenedione</tspan><tspan x="1025" y="3548">to estrone</tspan></text></g>
<g><use href="#u" x="1254" y="3580" class="cr"/><text class="e" x="1342" y="3596">AMH Inhibits<tspan x="1342" y="3620">aromatase activity</tspan></text></g>
<g><use href="#u" x="442" y="3526" class="cr"/><text class="e" x="560" y="3540">Counteracts FSH growth<tspan x="560" y="3563">promoting affects on</tspan><tspan x="560" y="3586">granulosa cell</tspan></text></g>
<text class="e" x="560" y="3717">AMH counteracts FSH<tspan x="560" y="3741">stimulated pre-antral</tspan><tspan x="560" y="3764">follicle growth</tspan></text>
<g><use href="#u" x="253" y="3401" class="cc"/><use href="#u" x="284" y="3401" class="cr"/><text class="e" x="322" y="3422">AMH production<tspan x="322" y="3446">in granulosa</tspan><tspan x="322" y="3469">upregulated by</tspan><tspan x="322" y="3492">androgens</tspan></text></g>
<g><use href="#v" x="38" y="3508" class="cr"/><text class="e" x="135" y="3524">AMH production in<tspan x="135" y="3548">granulosa downregulated</tspan><tspan x="135" y="3571">by FSH, potentially</tspan><tspan x="135" y="3594">through oestradiol</tspan><tspan x="135" y="3618">production</tspan></text></g>
</g>
</svg>
